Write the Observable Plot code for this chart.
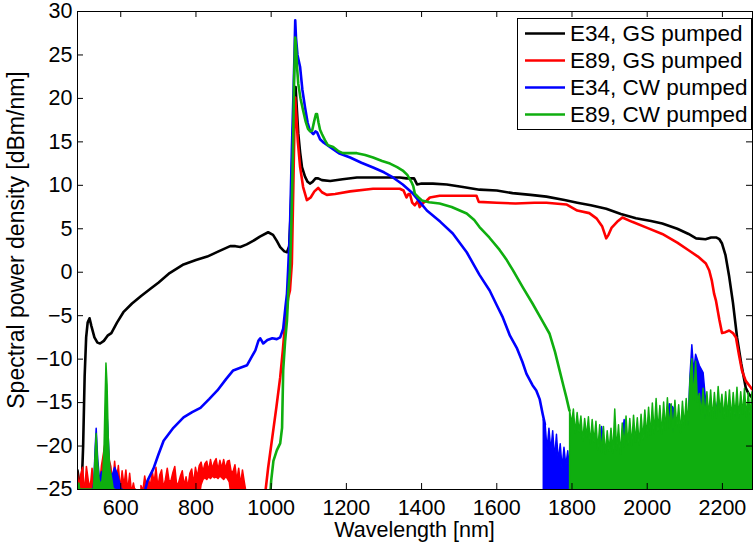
<!DOCTYPE html>
<html><head><meta charset="utf-8">
<script src="https://cdn.jsdelivr.net/npm/d3@7"></script>
<script src="https://cdn.jsdelivr.net/npm/@observablehq/plot@0.6"></script>
<style>
html,body{margin:0;padding:0;background:#fff;}
#chart{position:relative;width:753px;height:545px;}
</style></head><body><div id="chart"></div>
<script>
// ---------- axes ----------
const xTicks = [600, 800, 1000, 1200, 1400, 1600, 1800, 2000, 2200];
const yTicks = [-25, -20, -15, -10, -5, 0, 5, 10, 15, 20, 25, 30];
const xDomain = [485, 2280];
const yDomain = [-25, 30];
const xLabel = "Wavelength [nm]";
const yLabel = "Spectral power density [dBm/nm]";

// ---------- series ----------
const seriesNames = ["E34, GS pumped", "E89, GS pumped", "E34, CW pumped", "E89, CW pumped"];
const seriesColors = ["#000000", "#ff0000", "#0000ff", "#0fae0f"];

// E34, GS pumped (black)
const blackWl = [485, 489, 492, 495, 500, 504, 508, 512, 517, 522, 530, 538, 545, 555, 565, 575, 590, 607, 630, 655, 679, 700, 730, 767, 800, 830, 860, 891, 905, 918, 935, 952, 970, 992, 1005, 1015, 1024, 1035, 1042, 1048, 1053, 1058, 1062, 1065, 1068, 1072, 1077, 1082, 1090, 1097, 1103, 1110, 1118, 1125, 1135, 1157, 1190, 1228, 1280, 1342, 1360, 1380, 1388, 1400, 1430, 1467, 1510, 1554, 1600, 1642, 1690, 1732, 1780, 1814, 1850, 1891, 1930, 1970, 2010, 2040, 2080, 2110, 2130, 2155, 2170, 2183, 2192, 2199, 2208, 2218, 2228, 2239, 2250, 2262, 2270, 2280];
const blackVal = [-22.8, -24, -26, -26, -20, -12, -7.5, -5.8, -5.3, -6.2, -7.5, -8.1, -8.2, -7.9, -7.3, -7.0, -5.8, -4.6, -3.6, -2.7, -1.9, -1.2, -0.1, 0.9, 1.4, 1.8, 2.4, 3.0, 3.0, 2.9, 3.2, 3.6, 4.1, 4.6, 4.3, 3.6, 2.9, 2.4, 2.3, 3, 8, 16, 20, 21.3, 19, 16, 13.8, 12.1, 11, 10.4, 10.2, 10.4, 10.8, 10.8, 10.6, 10.5, 10.7, 10.9, 10.9, 10.9, 10.8, 10.8, 10.1, 10.2, 10.2, 10.1, 9.8, 9.5, 9.4, 9.1, 8.9, 8.7, 8.3, 8.0, 7.7, 7.3, 6.7, 6.2, 5.9, 5.6, 5.0, 4.4, 3.9, 3.8, 4.0, 4.0, 3.8, 3.3, 2.0, -0.5, -3.5, -7.5, -10.5, -13.3, -14, -14.5];

// E89, GS pumped (red) - smooth part
const redWl = [984, 992, 1003, 1014, 1024, 1031, 1037, 1045, 1050, 1055, 1059, 1062, 1064, 1067, 1071, 1077, 1085, 1095, 1105, 1115, 1125, 1135, 1148, 1170, 1210, 1271, 1342, 1352, 1360, 1365, 1369, 1375, 1382, 1390, 1395, 1400, 1405, 1414, 1422, 1448, 1500, 1546, 1552, 1600, 1650, 1700, 1732, 1785, 1814, 1846, 1865, 1880, 1891, 1897, 1905, 1920, 1934, 1960, 2000, 2040, 2080, 2111, 2135, 2156, 2165, 2172, 2178, 2183, 2192, 2199, 2208, 2218, 2228, 2236, 2244, 2252, 2262, 2276, 2280];
const redVal = [-25.5, -22.5, -19, -15.5, -12.1, -9, -5.9, -3, -2.1, 1, 10, 17, 20.1, 18, 15, 12.1, 9.8, 8.3, 8.6, 9.3, 9.7, 9.2, 8.9, 9.0, 9.3, 9.6, 9.6, 9.4, 8.6, 9.0, 9.0, 8.0, 7.7, 8.2, 7.5, 7.8, 8.0, 8.25, 8.6, 8.8, 8.8, 8.8, 8.1, 8.0, 7.9, 8.0, 8.0, 7.8, 7.1, 6.8, 6.2, 5.3, 3.9, 4.3, 5.1, 5.8, 6.3, 5.8, 5.1, 4.4, 3.4, 2.5, 1.8, 1.0, 0.2, -1, -2.5, -3.3, -5.5, -7.0, -6.9, -6.7, -7.0, -7.5, -9.5, -11.3, -12.5, -13.3, -13.5];
// red noise, short wavelengths
const redNoiseAWl = [485, 490, 495, 500, 505, 510, 515, 520, 525, 530, 535, 540, 545, 550, 555, 560, 565, 570, 575, 580, 585, 590, 595, 600, 605, 610, 615, 620, 625, 630, 635, 640];
const redNoiseAHi = [-22.6, -24.8, -23.3, -22.5, -25.5, -22.4, -24.0, -24.9, -22.6, -24.5, -25.2, -22.9, -24.6, -22.3, -21.0, -19.5, -18.6, -21.5, -22.4, -24.4, -21.8, -24.0, -22.3, -25.0, -22.9, -24.6, -22.8, -25.2, -23.2, -25.4, -24.3, -25.5];
const redNoiseBWl = [655, 660, 665, 670, 675, 680, 685, 690, 695, 700, 705, 710, 715, 720, 725, 730, 735, 740, 745, 750, 755, 760, 765, 770, 775, 780, 785, 790, 795, 800, 805, 810, 815, 820, 825, 830, 835, 840, 845, 850, 855, 860, 865, 870, 875, 880, 885, 890, 895, 900, 905, 910, 915, 920, 925, 930, 935];
const redNoiseBHi = [-24.6, -25.2, -23.5, -24.9, -23.8, -24.7, -22.9, -24.3, -22.5, -24.8, -23.4, -22.8, -24.9, -23.9, -22.6, -24.1, -24.0, -23.1, -22.4, -24.5, -24.3, -23.5, -22.9, -24.6, -23.6, -24.8, -23.2, -22.7, -24.4, -22.5, -23.6, -22.3, -21.9, -23.0, -22.1, -21.8, -22.9, -21.6, -22.7, -21.9, -21.5, -22.8, -21.7, -22.6, -21.6, -22.7, -21.8, -21.7, -23.0, -23.0, -22.2, -24.0, -22.6, -24.5, -22.8, -24.2, -25.5];
const redNoiseBLo = [-26, -26, -26, -26, -26, -26, -26, -26, -26, -26, -26, -26, -26, -26, -26, -26, -26, -26, -26, -26, -26, -26, -26, -26, -26, -26, -26, -26, -26, -26, -26, -26, -24.5, -23.9, -23.7, -23.9, -23.6, -23.8, -23.5, -23.7, -23.6, -23.8, -23.5, -23.7, -23.9, -23.6, -23.8, -24.2, -26, -26, -26, -26, -26, -26, -26, -26, -26];

// E34, CW pumped (blue)
const blueWl = [660, 671, 687, 700, 714, 740, 767, 790, 812, 835, 857, 880, 899, 918, 936, 950, 958, 966, 971, 979, 990, 1003, 1015, 1024, 1032, 1038, 1042, 1045, 1050, 1055, 1059, 1062, 1064, 1066, 1070, 1077, 1083, 1090, 1097, 1103, 1112, 1118, 1122, 1130, 1140, 1157, 1180, 1210, 1240, 1271, 1300, 1324, 1350, 1377, 1395, 1414, 1450, 1483, 1520, 1554, 1581, 1600, 1616, 1635, 1653, 1668, 1679, 1695, 1705, 1714, 1722, 1728];
const blueVal = [-26, -24, -22.6, -21, -19.4, -17.9, -16.7, -16.1, -15.6, -14.6, -13.6, -12.3, -11.3, -11.0, -10.7, -9.6, -9.0, -7.9, -7.6, -8.2, -7.8, -7.6, -7.7, -7.5, -6.5, -4, -2.5, 0.2, 5, 14, 20, 25, 29, 27, 25, 23.6, 21, 19, 17.2, 16.3, 15.9, 16.2, 16.1, 15.3, 14.9, 14.4, 13.7, 13.2, 12.6, 12.05, 11.5, 10.9, 10.1, 9.05, 8.1, 7.1, 5.8, 4.45, 2.3, -0.3, -2.1, -3.8, -5.2, -7.3, -8.7, -10.3, -11.7, -13, -13.6, -14.6, -16.3, -17.5];
const blueNoiseLWl = [525, 530, 533, 536, 540, 545, 550, 555, 559, 563, 567, 572, 578, 585, 592, 600, 605];
const blueNoiseLHi = [-26, -24, -20.5, -18, -21.5, -24, -23, -23.8, -20, -15, -18, -23, -23.5, -22.5, -23.2, -24.5, -26];
const blueNoiseRWl = [1725, 1730, 1735, 1740, 1745, 1750, 1755, 1760, 1765, 1770, 1775, 1780, 1785, 1790, 1795, 1800, 1810, 1820, 1830, 1840, 1850, 1860, 1870, 1880, 1890, 1900, 1910, 1920, 1930, 1940, 1950, 1960, 1970, 1980, 1990, 2000, 2010, 2020, 2030, 2040, 2050, 2060, 2070, 2080, 2090, 2100, 2110, 2115, 2120, 2125, 2130, 2140, 2150, 2160, 2170, 2180, 2190, 2200, 2210, 2220, 2230, 2240, 2250, 2260, 2270, 2280];
const blueNoiseRHi = [-17.0, -17.6, -20.5, -18.0, -20.6, -18.3, -21.5, -18.7, -21.8, -19.8, -22.6, -20.2, -22.3, -20.6, -23.0, -21.0, -21, -20.5, -21.5, -20.8, -21.5, -20.6, -21.8, -17.8, -21.5, -21, -21.6, -20.8, -21.1, -17.0, -20.5, -20, -19.8, -20.2, -19.5, -19.4, -18.6, -19.0, -18.5, -19, -18.6, -15.2, -15.6, -18, -18.4, -17.8, -17.5, -12, -8.4, -11.5, -9.5, -10.8, -11.6, -16.5, -16.8, -17, -14.6, -16.8, -16.5, -16.4, -16.6, -16.3, -16.5, -16.4, -16.6, -16.5];

// E89, CW pumped (green)
const greenWl = [997, 1000, 1006, 1015, 1024, 1029, 1032, 1037, 1042, 1046, 1050, 1054, 1058, 1061, 1064, 1066, 1069, 1072, 1078, 1085, 1092, 1098, 1104, 1109, 1114, 1119, 1122, 1126, 1130, 1135, 1143, 1151, 1165, 1180, 1191, 1210, 1228, 1250, 1271, 1295, 1316, 1335, 1350, 1362, 1370, 1374, 1378, 1382, 1392, 1401, 1420, 1448, 1480, 1520, 1540, 1554, 1580, 1607, 1625, 1642, 1670, 1695, 1720, 1740, 1755, 1767, 1778, 1785, 1793];
const greenVal = [-26, -24, -21.7, -20.5, -19.7, -17.9, -11.3, -8, -5.6, -2, 0.2, 6, 14, 22, 27, 26, 23.5, 21.7, 20, 18.6, 17.3, 16.5, 16.2, 16.3, 17.3, 18.2, 18.2, 17.2, 16.4, 15.9, 15.2, 14.6, 14.4, 13.9, 13.7, 13.7, 13.7, 13.5, 13.2, 12.8, 12.5, 12.1, 11.7, 11.2, 10.6, 10.3, 9.9, 9.05, 8.6, 8.25, 8.05, 7.9, 7.5, 6.75, 6.0, 5.2, 4.0, 2.6, 1.5, 0.3, -1.8, -3.6, -5.5, -7.05, -9.2, -11.3, -13.2, -14.4, -15.9];
const greenNoiseLWl = [485, 490, 495, 500, 528, 532, 536, 540, 544, 550, 554, 557, 560, 562, 565, 568, 572, 578, 585];
const greenNoiseLHi = [-26, -24.3, -26, -26, -26, -22, -18.6, -22, -24, -24.5, -23, -20, -14, -10.5, -13, -19, -22.5, -24, -26];
const greenNoiseRWl = [1795, 1800, 1805, 1810, 1815, 1820, 1825, 1830, 1835, 1840, 1845, 1850, 1855, 1860, 1865, 1870, 1875, 1880, 1885, 1890, 1895, 1900, 1905, 1910, 1915, 1920, 1925, 1930, 1935, 1940, 1945, 1950, 1955, 1960, 1965, 1970, 1975, 1980, 1985, 1990, 1995, 2000, 2005, 2010, 2015, 2020, 2025, 2030, 2035, 2040, 2045, 2050, 2055, 2060, 2065, 2070, 2075, 2080, 2085, 2090, 2095, 2100, 2105, 2110, 2115, 2120, 2125, 2130, 2135, 2140, 2145, 2150, 2155, 2160, 2165, 2170, 2175, 2180, 2185, 2190, 2195, 2200, 2205, 2210, 2215, 2220, 2225, 2230, 2235, 2240, 2245, 2250, 2255, 2260, 2265, 2270, 2275, 2280];
const greenNoiseRHi = [-15.9, -17.5, -15.8, -18.6, -16.2, -18.4, -16.6, -19.5, -16.9, -19.0, -16.7, -19.8, -17.0, -19.6, -17.2, -20.5, -17.6, -20.8, -17.8, -21.0, -18.3, -20.6, -18.0, -20.9, -15.8, -20.5, -17.6, -21.0, -17.4, -20.2, -16.6, -19.9, -16.9, -20.0, -16.5, -19.6, -16.8, -19.9, -16.4, -19.3, -15.9, -19.0, -15.6, -18.8, -15.1, -18.6, -14.6, -18.3, -15.4, -18.7, -15.0, -18.2, -14.5, -18.0, -15.2, -18.4, -14.8, -17.9, -15.3, -18.5, -14.9, -17.8, -14.6, -17.6, -12.5, -10.0, -14.8, -10.3, -15.0, -14.0, -16.4, -13.4, -16.8, -13.8, -16.6, -13.6, -16.9, -13.9, -16.8, -13.2, -16.1, -14.1, -16.8, -13.8, -16.6, -13.6, -16.9, -13.9, -16.6, -13.3, -16.8, -13.8, -16.4, -13.4, -16.7, -13.9, -16.4, -13.8];

// ---------- build tables ----------
const tbl = (wl, v) => wl.map((w, i) => ({wl: w, v: v[i]}));
const tblBand = (wl, lo, hi) => wl.map((w, i) => ({wl: w, lo: lo === null ? yDomain[0] : lo[i], hi: hi[i]}));

const W = 753, H = 545;
const mL = 77, mR = 1, mT = 11, mB = 56;
const plotW = W - mL - mR, plotH = H - mT - mB;
const tickLen = 6;
const LW = 2.6;
const FONT = "'Liberation Sans', Arial, sans-serif";

const lineOpts = (c) => ({x: "wl", y: "v", stroke: c, strokeWidth: LW, clip: true, strokeLinejoin: "round"});
const bandOpts = (c) => ({x: "wl", y1: "lo", y2: "hi", fill: c, stroke: c, strokeWidth: 1.5, clip: true});

const fmtY = d => d < 0 ? "\u2212" + Math.abs(d) : String(d);

const plot = Plot.plot({
  width: W, height: H,
  marginLeft: mL, marginRight: mR, marginTop: mT, marginBottom: mB,
  style: {fontFamily: FONT, fontSize: "21.5px", color: "#000", background: "#fff"},
  x: {domain: xDomain, ticks: xTicks, tickSize: 0, tickPadding: 10, tickFormat: d => String(d), label: null},
  y: {domain: yDomain, ticks: yTicks, tickSize: 0, tickPadding: 5, tickFormat: fmtY, label: null},
  marks: [
    Plot.line(tbl(blackWl, blackVal), lineOpts(seriesColors[0])),
    Plot.areaY(tblBand(redNoiseAWl, null, redNoiseAHi), bandOpts(seriesColors[1])),
    Plot.areaY(tblBand(redNoiseBWl, redNoiseBLo, redNoiseBHi), bandOpts(seriesColors[1])),
    Plot.line(tbl(redWl, redVal), lineOpts(seriesColors[1])),
    Plot.areaY(tblBand(blueNoiseLWl, null, blueNoiseLHi), bandOpts(seriesColors[2])),
    Plot.line(tbl(blueWl, blueVal), lineOpts(seriesColors[2])),
    Plot.areaY(tblBand(blueNoiseRWl, null, blueNoiseRHi), bandOpts(seriesColors[2])),
    Plot.areaY(tblBand(greenNoiseLWl, null, greenNoiseLHi), bandOpts(seriesColors[3])),
    Plot.line(tbl(greenWl, greenVal), lineOpts(seriesColors[3])),
    Plot.areaY(tblBand(greenNoiseRWl, null, greenNoiseRHi), bandOpts(seriesColors[3])),
    Plot.frame({stroke: "#000"}),
    Plot.tickX(xTicks, {x: d => d, insetTop: plotH - tickLen, stroke: "#000"}),
    Plot.tickX(xTicks, {x: d => d, insetBottom: plotH - tickLen, stroke: "#000"}),
    Plot.tickY(yTicks, {y: d => d, insetRight: plotW - tickLen, stroke: "#000"}),
    Plot.tickY(yTicks, {y: d => d, insetLeft: plotW - tickLen, stroke: "#000"})
  ]
});

const svg = d3.select(plot);

// ---------- axis titles ----------
svg.append("text")
  .attr("x", mL + plotW / 2).attr("y", 537)
  .attr("text-anchor", "middle").attr("font-family", FONT).attr("font-size", 21.5).attr("fill", "#000")
  .text(xLabel);
svg.append("text")
  .attr("transform", "translate(24,240) rotate(-90)")
  .attr("text-anchor", "middle").attr("font-family", FONT).attr("font-size", 23).attr("fill", "#000")
  .text(yLabel);

// ---------- legend ----------
const lg = svg.append("g").attr("class", "legend");
lg.append("rect").attr("x", 517.5).attr("y", 18.5).attr("width", 234).attr("height", 111)
  .attr("fill", "#fff").attr("stroke", "#000").attr("stroke-width", 1);
seriesNames.forEach((name, i) => {
  const cy = 33.5 + i * 27;
  lg.append("line").attr("x1", 525).attr("x2", 565).attr("y1", cy).attr("y2", cy)
    .attr("stroke", seriesColors[i]).attr("stroke-width", LW);
  lg.append("text").attr("x", 570).attr("y", cy).attr("dy", "0.35em")
    .attr("text-anchor", "start").attr("font-family", FONT)
    .attr("font-size", 22.5).attr("fill", "#000").text(name);
});

document.getElementById("chart").appendChild(plot);
</script>
</body></html>
